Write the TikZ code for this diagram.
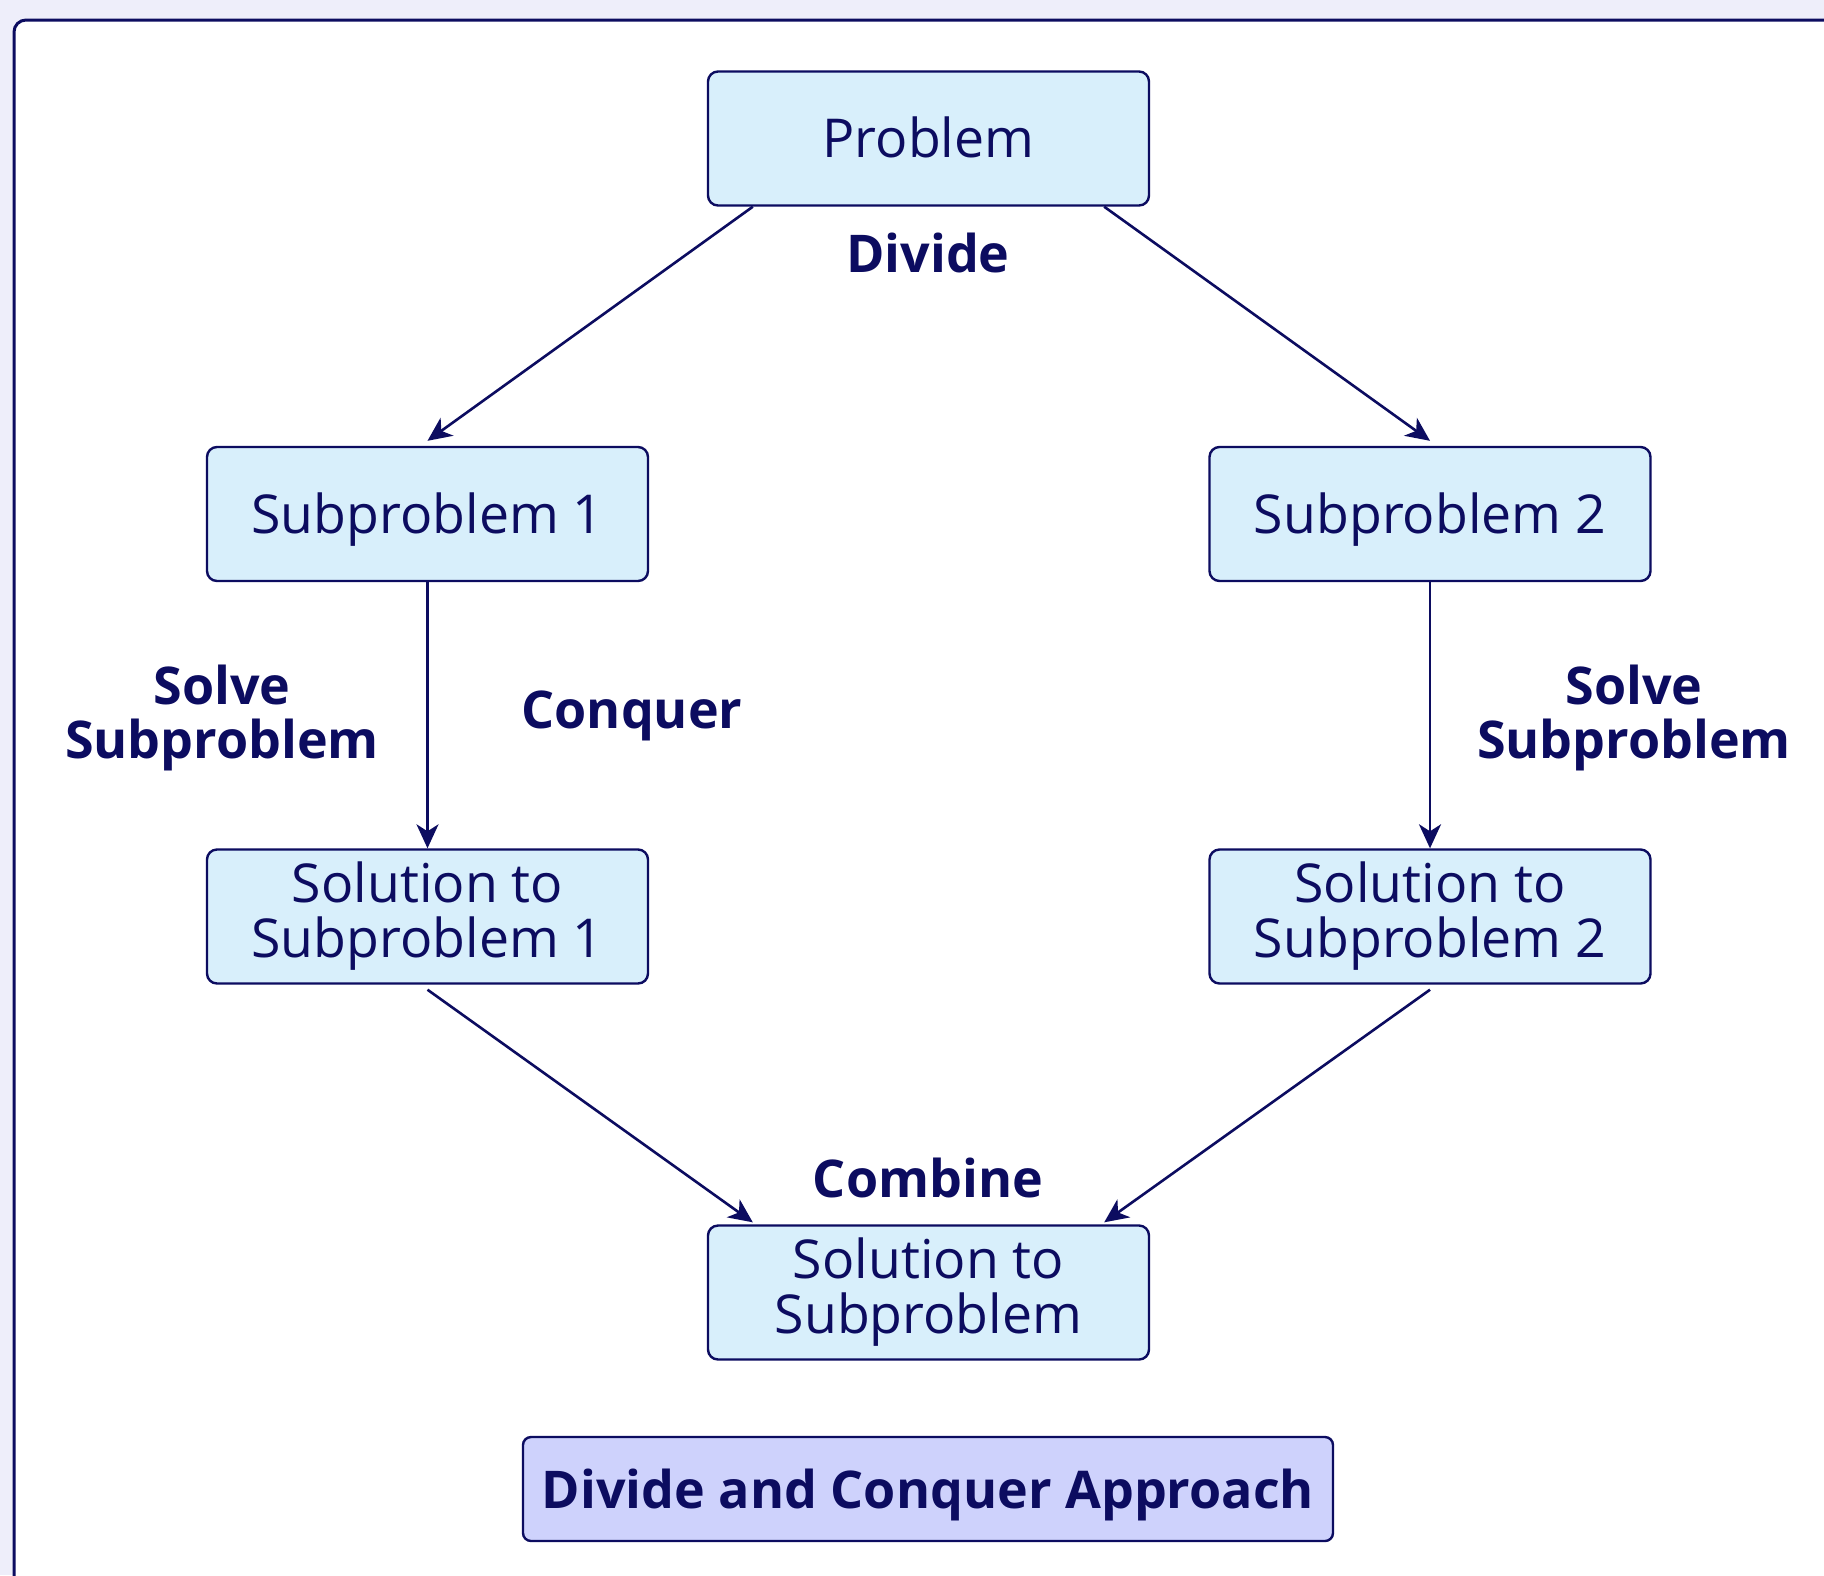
\documentclass[tikz,border=0pt]{standalone}
\usepackage{fontspec}
\setmainfont{Open Sans}
\usetikzlibrary{arrows.meta}
\definecolor{ink}{RGB}{12,12,96}
\definecolor{boxfill}{RGB}{216,239,251}
\definecolor{titlefill}{RGB}{206,210,252}
\definecolor{canvas}{RGB}{238,238,250}
\tikzset{
  stepbox/.style={draw=ink, line width=1.2pt, fill=boxfill, rounded corners=5pt,
    minimum width=220.5pt, minimum height=67pt, text=ink, align=center, inner sep=0pt,
    font=\fontsize{26.8}{27.5}\selectfont},
  oneline/.style={text height=19pt, text depth=0pt},
  lbl/.style={text=ink, align=center, inner sep=0pt,
    font=\bfseries\fontsize{26}{27}\selectfont},
  titlebox/.style={draw=ink, line width=1.2pt, fill=titlefill, rounded corners=4pt,
    minimum width=405pt, minimum height=52pt, text=ink, inner sep=0pt,
    text height=19pt, text depth=0pt,
    font=\bfseries\fontsize{26}{27}\selectfont},
  flow/.style={draw=ink, line width=1.3pt, -{Stealth[length=12pt,width=11pt,inset=3.5pt]}}
}
\begin{document}
\begin{tikzpicture}[x=0.5pt,y=-0.5pt]
\useasboundingbox (0,0) rectangle (1824,1575);
% page background and framed panel
\fill[canvas] (0,0) rectangle (1824,1575);
\draw[ink, line width=1.5pt, fill=white, rounded corners=6pt] (14,20) rectangle (1860,1620);

% process boxes
\node[stepbox, oneline] (prob) at (928.5,138.5) {Problem};
\node[stepbox, oneline] (sub1) at (427.5,514) {Subproblem 1};
\node[stepbox, oneline] (sub2) at (1430,514) {Subproblem 2};
\node[stepbox] (sol1) at (427.5,916.5) {Solution to\\Subproblem 1};
\node[stepbox] (sol2) at (1430,916.5) {Solution to\\Subproblem 2};
\node[stepbox] (fin) at (928.5,1292.5) {Solution to\\Subproblem};

% stage labels
\node[lbl] (ldiv) at (928,253) {Divide};
\node[lbl] (lconq) at (632,716) {Conquer};
\node[lbl] (lsolveA) at (222,718) {Solve\\Subproblem};
\node[lbl] (lsolveB) at (1634,718) {Solve\\Subproblem};
\node[lbl] (lcomb) at (928,1178) {Combine};

% caption
\node[titlebox] (ttl) at (928,1489) {Divide and Conquer Approach};

% connectors
\draw[flow] ([xshift=23pt]prob.south west) -- ([yshift=2.5pt]sub1.north);
\draw[flow] ([xshift=-23pt]prob.south east) -- ([yshift=2.5pt]sub2.north);
\draw[flow] (sub1.south) -- (sol1.north);
\draw[flow] (sub2.south) -- (sol2.north);
\draw[flow] ([yshift=-2.5pt]sol1.south) -- ([xshift=23pt,yshift=1pt]fin.north west);
\draw[flow] ([yshift=-2.5pt]sol2.south) -- ([xshift=-23pt,yshift=1pt]fin.north east);
\end{tikzpicture}
\end{document}
